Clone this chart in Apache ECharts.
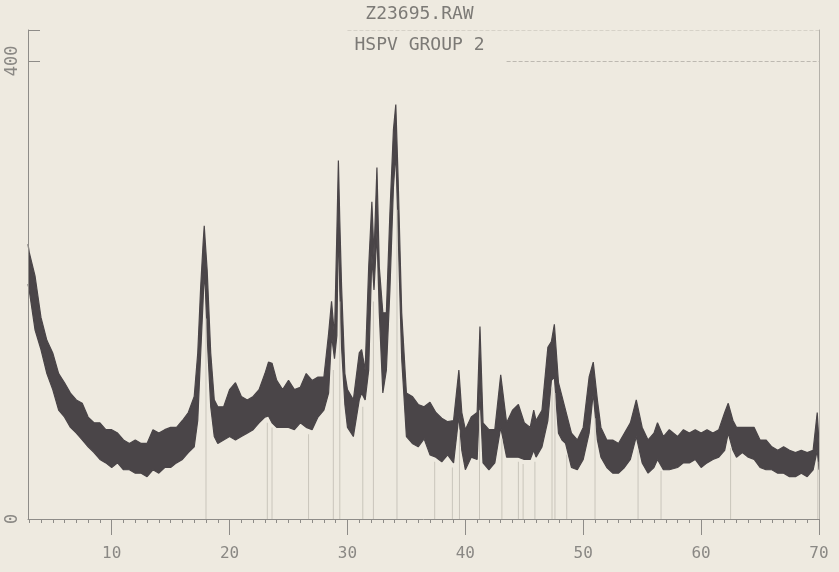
<!DOCTYPE html>
<html>
<head>
<meta charset="utf-8">
<title>Z23695.RAW</title>
<script src="https://cdn.jsdelivr.net/npm/echarts@6/dist/echarts.min.js"></script>
<style>
  html, body { margin: 0; padding: 0; background: #eeeae0; }
  #main { width: 839px; height: 572px; }
</style>
</head>
<body>
<div id="main"></div>
<script>
// 2-theta positions and the lower / upper edge of the noisy trace (counts)
var twoTheta = [2.9, 3.0, 3.5, 4.0, 4.5, 5.0, 5.5, 6.0, 6.5, 7.0, 7.5, 8.0, 8.5, 9.0, 9.5, 10.0, 10.5, 11.0, 11.5, 12.0,
  12.5, 13.0, 13.5, 14.0, 14.5, 15.0, 15.5, 16.0, 16.5, 17.0, 17.3, 17.55, 17.75, 17.85, 17.95, 18.1, 18.4, 18.7, 19.0, 19.5,
  20.0, 20.5, 21.0, 21.5, 22.0, 22.5, 23.0, 23.3, 23.6, 24.0, 24.5, 25.0, 25.5, 26.0, 26.5, 27.0, 27.5, 28.0, 28.4, 28.65,
  28.9, 29.1, 29.23, 29.35, 29.5, 29.78, 30.0, 30.5, 31.0, 31.2, 31.5, 31.8, 32.07, 32.25, 32.5, 32.7, 33.0, 33.3, 33.6, 33.9,
  34.1, 34.3, 34.6, 35.0, 35.5, 36.0, 36.5, 37.0, 37.5, 38.0, 38.5, 39.0, 39.45, 39.7, 40.0, 40.5, 41.0, 41.24, 41.5, 42.0,
  42.5, 43.0, 43.5, 44.0, 44.5, 45.0, 45.5, 45.8, 46.0, 46.5, 47.0, 47.3, 47.55, 47.9, 48.2, 48.5, 49.0, 49.5, 50.0, 50.5,
  50.85, 51.2, 51.5, 52.0, 52.5, 53.0, 53.5, 54.0, 54.5, 55.0, 55.5, 56.0, 56.3, 56.8, 57.3, 58.0, 58.5, 59.0, 59.5, 60.0,
  60.5, 61.0, 61.5, 62.0, 62.3, 62.7, 63.0, 63.5, 64.0, 64.5, 65.0, 65.5, 66.0, 66.5, 67.0, 67.5, 68.0, 68.5, 69.0, 69.5,
  69.85, 70.0];
var countLow = [205, 200, 165, 148, 127, 113, 95, 89, 80, 75, 69, 63, 58, 52, 49, 45, 49, 43, 43, 40,
  40, 37, 43, 40, 45, 45, 49, 52, 58, 63, 86, 145, 190, 215, 200, 159, 98, 72, 66, 69,
  72, 69, 72, 75, 78, 84, 89, 90, 84, 80, 80, 80, 78, 84, 80, 78, 89, 95, 110, 160,
  140, 160, 260, 200, 150, 100, 80, 72, 104, 110, 104, 130, 230, 200, 250, 180, 110, 130, 200, 290,
  320, 250, 140, 72, 66, 63, 70, 56, 54, 50, 56, 49, 90, 60, 43, 54, 52, 110, 49, 43,
  49, 80, 54, 54, 54, 52, 52, 60, 54, 63, 86, 121, 124, 75, 69, 66, 45, 43, 52, 75,
  110, 69, 54, 45, 40, 40, 45, 52, 72, 49, 40, 45, 52, 43, 43, 45, 49, 49, 52, 45,
  49, 52, 54, 60, 75, 60, 54, 58, 54, 52, 45, 43, 43, 40, 40, 37, 37, 40, 37, 43,
  60, 43];
var countHigh = [240, 233, 212, 176, 156, 145, 127, 119, 110, 104, 101, 89, 84, 84, 78, 78, 75, 69, 66, 69,
  66, 66, 78, 75, 78, 80, 80, 86, 93, 107, 145, 203, 240, 256, 240, 217, 145, 104, 98, 98,
  113, 119, 107, 104, 107, 113, 127, 137, 136, 121, 113, 121, 113, 115, 127, 121, 124, 124, 162, 190,
  160, 250, 313, 260, 203, 127, 113, 104, 145, 148, 130, 220, 277, 230, 307, 220, 180, 180, 267, 340,
  362, 296, 180, 110, 107, 100, 98, 102, 93, 88, 85, 86, 130, 93, 78, 89, 93, 168, 84, 78,
  78, 126, 84, 95, 100, 84, 80, 95, 86, 95, 150, 155, 170, 119, 107, 95, 75, 69, 80, 124,
  137, 104, 80, 69, 69, 66, 75, 84, 104, 80, 69, 75, 84, 72, 78, 72, 78, 75, 78, 75,
  78, 75, 78, 93, 101, 86, 80, 80, 80, 80, 69, 69, 63, 60, 63, 60, 58, 60, 58, 60,
  93, 66];

// faint reference sticks (peak markers) under the trace
var stickPos = [18.0, 23.2, 23.6, 26.7, 28.8, 29.35, 31.3, 32.2, 34.2, 37.4, 38.9, 39.5, 41.2, 43.1, 44.5, 44.9,
  45.9, 47.35, 47.6, 48.6, 51.0, 54.65, 56.6, 62.5, 69.9];
var stickTop = [175, 84, 80, 74, 130, 190, 98, 190, 270, 50, 45, 78, 95, 70, 50, 48,
  50, 115, 110, 56, 88, 60, 42, 62, 50];

var minorTicks = [];
for (var t = 3; t <= 70; t++) minorTicks.push(t);
var majorTicks = [10, 20, 30, 40, 50, 60, 70];
var yLabels = [0, 400];

var lowData = twoTheta.map(function (x, i) { return [x, countLow[i]]; });
var highData = twoTheta.map(function (x, i) { return [x, countHigh[i]]; });
var stickData = stickPos.map(function (x, i) { return [x, stickTop[i]]; });

var bgColor = '#eeeae0';
var traceColor = '#4a4548';
var axisColor = '#8e8c88';
var labelFont = 'DejaVu Sans Mono';

var myChart = echarts.init(document.getElementById('main'));
myChart.setOption({
  backgroundColor: bgColor,
  animation: false,
  title: {
    text: 'Z23695.RAW',
    subtext: 'HSPV GROUP 2',
    left: 'center',
    top: 5,
    padding: 0,
    itemGap: 13,
    textStyle: { color: '#7c7a76', fontSize: 18, fontWeight: 'normal', fontFamily: labelFont },
    subtextStyle: { color: '#7c7a76', fontSize: 18, fontFamily: labelFont }
  },
  grid: { left: 28, right: 20, top: 30, bottom: 53 },
  xAxis: [{
    type: 'value',
    min: 2.9,
    max: 70,
    position: 'bottom',
    z: 10,
    axisLine: { lineStyle: { color: axisColor, width: 1 } },
    axisTick: { customValues: minorTicks, length: 4, lineStyle: { color: axisColor } },
    axisLabel: { show: false },
    splitLine: { show: false }
  }, {
    type: 'value',
    min: 2.9,
    max: 70,
    position: 'bottom',
    z: 10,
    axisLine: { show: false },
    axisTick: { customValues: majorTicks, length: 16, lineStyle: { color: axisColor } },
    axisLabel: {
      customValues: majorTicks,
      margin: 27,
      color: '#8a8884',
      fontSize: 16,
      fontFamily: labelFont
    },
    splitLine: { show: false }
  }],
  yAxis: [{
    type: 'value',
    min: 0,
    max: 427,
    z: 10,
    axisLine: { show: true, lineStyle: { color: axisColor } },
    axisTick: { inside: true, length: 12, customValues: [400, 427], lineStyle: { color: axisColor } },
    axisLabel: {
      customValues: yLabels,
      rotate: 90,
      margin: 7,
      color: '#8a8884',
      fontSize: 17,
      fontFamily: labelFont
    },
    splitLine: { show: false }
  }, {
    type: 'value',
    min: 0,
    max: 427,
    position: 'right',
    z: 10,
    axisLine: { show: true, lineStyle: { color: '#b4b1aa' } },
    axisTick: { show: false },
    axisLabel: { show: false },
    splitLine: { show: false }
  }],
  series: [{
    // upper edge of the trace, filled dark down to the axis
    name: 'high',
    type: 'line',
    symbol: 'none',
    lineStyle: { color: traceColor, width: 1.2 },
    areaStyle: { color: traceColor, opacity: 1 },
    data: highData,
    z: 2,
    markLine: {
      silent: true,
      symbol: 'none',
      label: { show: false },
      lineStyle: { color: '#bdb9b1', type: 'dashed', width: 1 },
      data: [
        [{ coord: [43.5, 400] }, { coord: [70, 400] }],
        [{ coord: [30, 427] }, { coord: [70, 427], lineStyle: { color: '#d6d2c8' } }]
      ]
    }
  }, {
    // lower edge of the trace, paper colour below it
    name: 'low',
    type: 'line',
    symbol: 'none',
    lineStyle: { color: traceColor, width: 1.2 },
    areaStyle: { color: bgColor, opacity: 1 },
    data: lowData,
    z: 3
  }, {
    name: 'sticks',
    type: 'bar',
    barWidth: 1,
    itemStyle: { color: '#c9c5bb' },
    data: stickData,
    z: 4
  }]
});
</script>
</body>
</html>
